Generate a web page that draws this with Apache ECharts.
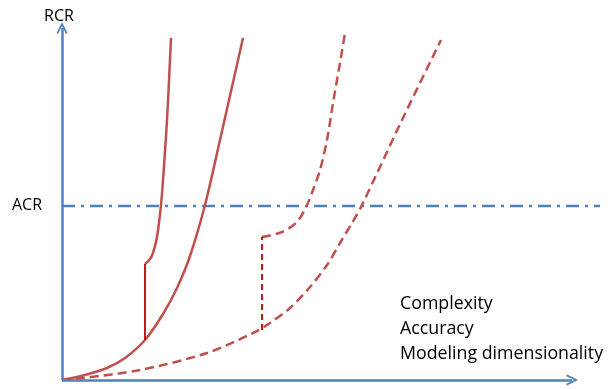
<!DOCTYPE html>
<html><head><meta charset="utf-8">
<script src="https://cdn.jsdelivr.net/npm/echarts@6/dist/echarts.min.js"></script>
<style>html,body{margin:0;padding:0;background:#fff}#c{width:610px;height:389px}</style>
</head><body><div id="c"></div>
<script>
// Data (x: complexity units, y: RCR units)
const steepCurve = [[83,116],[88,121],[91,127],[95,143],[99,175],[101,200],[105,260],[109,342]];
const steepJump = [[83,40],[83,116]];
const solidCurve = [[0,0],[23,5],[45,12],[63,22],[83,40],[101,66],[115,92],[128,124],[143,175],[158,240],[181,342]];
const dashedCurve = [[0,0],[21,2],[78,10],[145,27],[191,47],[208,57],[228,72],[248,93],[265,115],[278,137],[290,157],[300,175],[340,260],[379,340]];
const dashedJump = [[200,50],[200,143]];
const dashedSteep = [[200,143],[220,148],[235,158],[245,175],[251,190],[258,210],[265,240],[271,277],[278,317],[283,347]];
const acrLevel = 174;
const acrLine = [[0,acrLevel],[538,acrLevel]];
const xAxisEnd = 510, yAxisEnd = 352;
const yName = 'RCR';
const acrName = 'ACR';
const xNames = ['Complexity','Accuracy','Modeling dimensionality'];

const red = '#C0504D', darkRed = '#C00000', blue = '#4F81BD';
const font = '"Open Sans", Lato, sans-serif';
const arrow = 'path://M0,10 L5,0 L10,10 L8.6,11 L5,3.6 L1.4,11 Z';

const chart = echarts.init(document.getElementById('c'));
chart.setOption({
  animation:false,
  grid:{left:62,right:10,top:28,bottom:9},
  xAxis:{type:'value',min:0,max:538,splitLine:{show:false},axisTick:{show:false},axisLabel:{show:false},axisLine:{show:false}},
  yAxis:{type:'value',min:0,max:352,splitLine:{show:false},axisTick:{show:false},axisLabel:{show:false},axisLine:{show:false}},
  graphic:[
    {type:'text',left:44,top:8,style:{text:yName,font:'16px '+font,fill:'#000'}},
    {type:'text',left:12,top:197,style:{text:acrName,font:'16px '+font,fill:'#000'}},
    {type:'text',left:400,top:295,style:{text:xNames[0],font:'17.8px '+font,fill:'#000'}},
    {type:'text',left:400,top:320,style:{text:xNames[1],font:'17.8px '+font,fill:'#000'}},
    {type:'text',left:400,top:345,style:{text:xNames[2],font:'17.8px '+font,fill:'#000'}}
  ],
  series:[
    {type:'line',data:acrLine,symbol:'none',clip:false,lineStyle:{color:blue,width:2.5,type:[13,6,3,6]},z:1,
      markLine:{silent:true,symbol:['none',arrow],symbolSize:[11,12],label:{show:false},
        lineStyle:{color:blue,width:2.5,type:'solid'},
        data:[[{coord:[0,0]},{coord:[xAxisEnd,0]}],[{coord:[0,0]},{coord:[0,yAxisEnd]}]]}},
    {type:'line',data:solidCurve,symbol:'none',smooth:0.3,lineStyle:{color:red,width:2.5},z:3},
    {type:'line',data:steepCurve,symbol:'none',smooth:0.4,lineStyle:{color:red,width:2.5},z:3},
    {type:'line',data:steepJump,symbol:'none',lineStyle:{color:darkRed,width:1.8},z:3},
    {type:'line',data:dashedCurve,symbol:'none',smooth:0.3,lineStyle:{color:red,width:2.5,type:[9,5]},z:3},
    {type:'line',data:dashedSteep,symbol:'none',smooth:0.3,lineStyle:{color:red,width:2.5,type:[9,5]},z:3},
    {type:'line',data:dashedJump,symbol:'none',lineStyle:{color:darkRed,width:1.8,type:[6,4]},z:3}
  ]
});
</script></body></html>
